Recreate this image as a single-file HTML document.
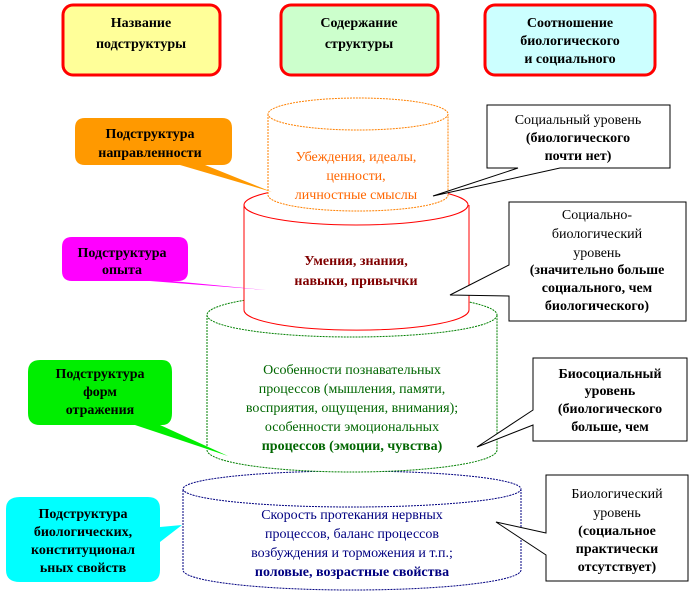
<!DOCTYPE html>
<html><head><meta charset="utf-8"><style>
body{margin:0;background:#fff}
svg text{font-family:"Liberation Serif","DejaVu Serif",serif;font-size:14px;text-anchor:middle}
.b{font-weight:bold}
</style></head><body>
<svg width="690" height="599" viewBox="0 0 690 599" xmlns="http://www.w3.org/2000/svg">
<!-- headers -->
<rect x="63" y="5" width="157" height="70" rx="10" fill="#ffff99" stroke="#ff0000" stroke-width="3"/>
<rect x="281" y="5" width="157" height="70" rx="10" fill="#ccffcc" stroke="#ff0000" stroke-width="3"/>
<rect x="485" y="5" width="170" height="70" rx="10" fill="#ccffff" stroke="#ff0000" stroke-width="3"/>
<text class="b" x="141" y="27">Название</text><text class="b" x="141" y="48">подструктуры</text>
<text class="b" x="359" y="27">Содержание</text><text class="b" x="359" y="48">структуры</text>
<text class="b" x="570" y="27">Соотношение</text><text class="b" x="570" y="45">биологического</text><text class="b" x="570" y="63">и социального</text>

<!-- blue cylinder -->
<path d="M183,490 V570 A169,20 0 0 0 521,570 V490" fill="#fff" stroke="#000080" stroke-dasharray="2,1"/>
<ellipse cx="352" cy="489" rx="169" ry="18" fill="#fff" stroke="#000080" stroke-dasharray="2,1"/>
<!-- green cylinder -->
<path d="M207,315 V450 A145,22 0 0 0 497,450 V315" fill="#fff" stroke="#008000" stroke-dasharray="2,1"/>
<ellipse cx="352" cy="315" rx="145" ry="22" fill="#fff" stroke="#008000" stroke-dasharray="2,1"/>
<!-- red cylinder -->
<path d="M244,205 V310 A112,20 0 0 0 469,310 V205" fill="#fff" stroke="#ff0000"/>
<ellipse cx="356" cy="205" rx="112" ry="20" fill="#fff" stroke="#ff0000"/>
<!-- orange cylinder -->
<path d="M268,114 V195 A90,16 0 0 0 448,195 V114" fill="#fff" stroke="#ff8000" stroke-dasharray="2,1"/>
<ellipse cx="358" cy="114" rx="90" ry="16" fill="#fff" stroke="#ff8000" stroke-dasharray="2,1"/>

<g fill="#ff6600"><text x="356" y="161">Убеждения, идеалы,</text><text x="356" y="180">ценности,</text><text x="356" y="199">личностные смыслы</text></g>
<g fill="#800000"><text class="b" x="356" y="265">Умения, знания,</text><text class="b" x="356" y="285">навыки, привычки</text></g>
<g fill="#006600"><text x="352" y="374">Особенности познавательных</text><text x="352" y="393">процессов (мышления, памяти,</text><text x="352" y="412">восприятия, ощущения, внимания);</text><text x="352" y="431">особенности эмоциональных</text><text class="b" x="352" y="450">процессов (эмоции, чувства)</text></g>
<g fill="#000080"><text x="352" y="519">Скорость протекания нервных</text><text x="352" y="538">процессов, баланс процессов</text><text x="352" y="557">возбуждения и торможения и т.п.;</text><text class="b" x="352" y="576">половые, возрастные свойства</text></g>

<!-- left callouts -->
<path d="M85,118 H222 Q232,118 232,128 V155 Q232,165 222,165 H205 L272,192 L180,165 H85 Q75,165 75,155 V128 Q75,118 85,118Z" fill="#ff9900"/>
<text class="b" x="150" y="138">Подструктура</text><text class="b" x="150" y="157">направленности</text>
<path d="M72,237 H178 Q188,237 188,247 V271 Q188,281 178,281 H172 L266,290 L150,281 H72 Q62,281 62,271 V247 Q62,237 72,237Z" fill="#ff00ff"/>
<text class="b" x="122" y="257">Подструктура</text><text class="b" x="122" y="274">опыта</text>
<path d="M40,360 H162 Q172,360 172,372 V413 Q172,425 162,425 H160 L228,456 L135,425 H40 Q28,425 28,413 V372 Q28,360 40,360Z" fill="#00ee00"/>
<text class="b" x="100" y="378">Подструктура</text><text class="b" x="100" y="396">форм</text><text class="b" x="100" y="414">отражения</text>
<path d="M20,497 H148 Q160,497 160,509 V527 L182,525 L160,542 V570 Q160,582 148,582 H20 Q6,582 6,570 V509 Q6,497 20,497Z" fill="#00ffff"/>
<text class="b" x="83" y="518">Подструктура</text><text class="b" x="83" y="536">биологических,</text><text class="b" x="83" y="554">конституционал</text><text class="b" x="83" y="572">ьных свойств</text>

<!-- right callouts -->
<path d="M487,105 H670 V168 H560 L433,196 L518,168 H487Z" fill="#fff" stroke="#000"/>
<text x="578" y="124">Социальный уровень</text><text class="b" x="578" y="142">(биологического</text><text class="b" x="578" y="160">почти нет)</text>
<path d="M509,202 H686 V321 H509 V296 L450,295 L509,265Z" fill="#fff" stroke="#000"/>
<text x="597" y="219">Социально-</text><text x="597" y="238">биологический</text><text x="597" y="257">уровень</text><text class="b" x="597" y="274">(значительно больше</text><text class="b" x="597" y="292">социального, чем</text><text class="b" x="597" y="310">биологического)</text>
<path d="M533,358 H687 V441 H533 V425 L477,447 L533,410Z" fill="#fff" stroke="#000"/>
<text class="b" x="610" y="378">Биосоциальный</text><text class="b" x="610" y="395">уровень</text><text class="b" x="610" y="413">(биологического</text><text class="b" x="610" y="431">больше, чем</text>
<path d="M546,475 H688 V581 H546 V555 L496,522 L546,533Z" fill="#fff" stroke="#000"/>
<text x="617" y="498">Биологический</text><text x="617" y="517">уровень</text><text class="b" x="617" y="535">(социальное</text><text class="b" x="617" y="553">практически</text><text class="b" x="617" y="571">отсутствует)</text>
</svg>
</body></html>
